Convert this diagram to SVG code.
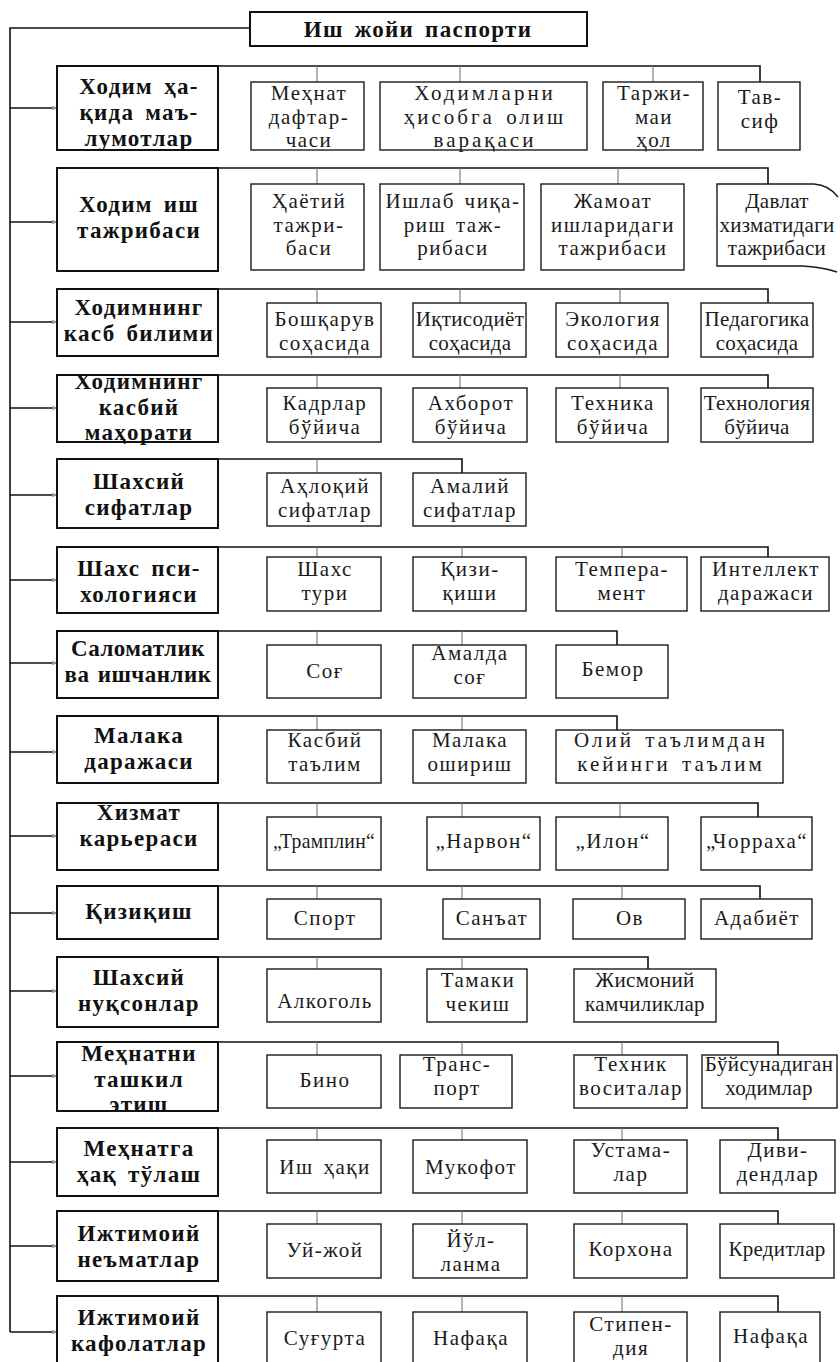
<svg xmlns="http://www.w3.org/2000/svg" width="840" height="1362" viewBox="0 0 840 1362">
  <defs>
    <marker id="tip" viewBox="0 0 8 8" refX="7" refY="4" markerWidth="6" markerHeight="6" orient="auto" markerUnits="userSpaceOnUse">
      <path d="M0,1 L8,4 L0,7 Z" fill="#999"/>
    </marker>
    <style>
      .bg { fill: #ffffff; }
      .title rect, .cat rect { fill: none; stroke: #111; stroke-width: 2; }
      .leaf rect, .leaf path { fill: none; stroke: #1a1a1a; stroke-width: 1.4; }
      text { font-family: "Liberation Serif", "DejaVu Serif", serif; fill: #111; text-anchor: middle; }
      .title text, .cat text { font-size: 23px; font-weight: bold; letter-spacing: 1.3px; word-spacing: 4px; }
      .cat.narrow text { letter-spacing: 0.5px; word-spacing: 2px; }
      .leaf text { font-size: 21px; letter-spacing: 1.5px; word-spacing: 3px; fill: #1a1a1a; }
      .wide text { letter-spacing: 3px; }
      .tight text { letter-spacing: 0.3px; }
      .trunk { fill: none; stroke: #111; stroke-width: 1.6; }
      .branch { fill: none; stroke: #111; stroke-width: 1.6; marker-end: url(#tip); }
      .bus { fill: none; stroke: #111; stroke-width: 1.6; }
      .tick { fill: none; stroke: #777; stroke-width: 1.1; }
    </style>
  </defs>
  <rect class="bg" x="0" y="0" width="840" height="1362"/>

  <!-- connectors: trunk, branches to the headings, and row buses with drops -->
  <g id="connectors">
    <path class="trunk" d="M250,28 H10 V1332"/>
    <path class="branch" d="M10,108 H57"/>
    <path class="branch" d="M10,222 H57"/>
    <path class="branch" d="M10,322 H57"/>
    <path class="branch" d="M10,408 H57"/>
    <path class="branch" d="M10,495 H57"/>
    <path class="branch" d="M10,580 H57"/>
    <path class="branch" d="M10,663 H57"/>
    <path class="branch" d="M10,752 H57"/>
    <path class="branch" d="M10,836 H57"/>
    <path class="branch" d="M10,913 H57"/>
    <path class="branch" d="M10,991 H57"/>
    <path class="branch" d="M10,1076 H57"/>
    <path class="branch" d="M10,1162 H57"/>
    <path class="branch" d="M10,1246 H57"/>
    <path class="branch" d="M10,1332 H57"/>

    <path class="bus" d="M218,66 H760 V82"/>
    <path class="tick" d="M317,66 V82 M460,66 V82 M653,66 V82"/>
    <path class="bus" d="M218,168 H768 V184"/>
    <path class="tick" d="M317,168 V184 M460,168 V184 M618,168 V184"/>
    <path class="bus" d="M218,289 H768 V303"/>
    <path class="tick" d="M317,289 V303 M460,289 V303 M620,289 V303"/>
    <path class="bus" d="M218,375 H768 V388"/>
    <path class="tick" d="M317,375 V388 M460,375 V388 M620,375 V388"/>
    <path class="bus" d="M218,459 H462 V473"/>
    <path class="tick" d="M317,459 V473"/>
    <path class="bus" d="M218,547 H768 V557"/>
    <path class="tick" d="M317,547 V557 M462,547 V557 M622,547 V557"/>
    <path class="bus" d="M218,631 H617 V645"/>
    <path class="tick" d="M317,631 V645 M462,631 V645"/>
    <path class="bus" d="M218,716 H617 V730"/>
    <path class="tick" d="M317,716 V730 M462,716 V730"/>
    <path class="bus" d="M218,803 H758 V817"/>
    <path class="tick" d="M317,803 V817 M462,803 V817 M620,803 V817"/>
    <path class="bus" d="M218,886 H760 V899"/>
    <path class="tick" d="M317,886 V899 M462,886 V899 M622,886 V899"/>
    <path class="bus" d="M218,957 H648 V969"/>
    <path class="tick" d="M317,957 V969 M462,957 V969"/>
    <path class="bus" d="M218,1042 H778 V1055"/>
    <path class="tick" d="M317,1042 V1055 M462,1042 V1055 M622,1042 V1055"/>
    <path class="bus" d="M218,1128 H778 V1140"/>
    <path class="tick" d="M317,1128 V1140 M462,1128 V1140 M622,1128 V1140"/>
    <path class="bus" d="M218,1211 H778 V1224"/>
    <path class="tick" d="M317,1211 V1224 M462,1211 V1224 M622,1211 V1224"/>
    <path class="bus" d="M218,1296 H778 V1312"/>
    <path class="tick" d="M317,1296 V1312 M462,1296 V1312 M622,1296 V1312"/>
  </g>

  <!-- root -->
  <g id="root" class="title">
    <rect x="250" y="12" width="337" height="34"/>
    <text x="418" y="37">Иш жойи паспорти</text>
  </g>

  <!-- row 1 -->
  <g id="c01" class="cat">
    <rect x="57" y="66" width="161" height="84"/>
    <text x="139" y="94">Ходим ҳа-</text>
    <text x="139" y="120">қида маъ-</text>
    <text x="139" y="146">лумотлар</text>
  </g>
  <g id="c01a" class="leaf">
    <rect x="251" y="82" width="113" height="68"/>
    <text x="309" y="100">Меҳнат</text>
    <text x="309" y="123.5">дафтар-</text>
    <text x="309" y="147">часи</text>
  </g>
  <g id="c01b" class="leaf wide">
    <rect x="380" y="82" width="207" height="68"/>
    <text x="485" y="100">Ходимларни</text>
    <text x="485" y="123.5">ҳисобга олиш</text>
    <text x="485" y="147">варақаси</text>
  </g>
  <g id="c01c" class="leaf">
    <rect x="603" y="82" width="100" height="68"/>
    <text x="654" y="100">Таржи-</text>
    <text x="654" y="123.5">маи</text>
    <text x="654" y="147">ҳол</text>
  </g>
  <g id="c01d" class="leaf">
    <rect x="718" y="82" width="82" height="68"/>
    <text x="760" y="104">Тав-</text>
    <text x="760" y="128">сиф</text>
  </g>

  <!-- row 2 -->
  <g id="c02" class="cat">
    <rect x="57" y="168" width="161" height="103"/>
    <text x="139" y="212">Ходим иш</text>
    <text x="139" y="238">тажрибаси</text>
  </g>
  <g id="c02a" class="leaf">
    <rect x="251" y="184" width="113" height="86"/>
    <text x="309" y="208">Ҳаётий</text>
    <text x="309" y="231.5">тажри-</text>
    <text x="309" y="255">баси</text>
  </g>
  <g id="c02b" class="leaf">
    <rect x="380" y="184" width="144" height="86"/>
    <text x="453" y="208">Ишлаб чиқа-</text>
    <text x="453" y="231.5">риш таж-</text>
    <text x="453" y="255">рибаси</text>
  </g>
  <g id="c02c" class="leaf">
    <rect x="541" y="184" width="143" height="86"/>
    <text x="613" y="208">Жамоат</text>
    <text x="613" y="231.5">ишларидаги</text>
    <text x="613" y="255">тажрибаси</text>
  </g>
  <g id="c02d" class="leaf tight">
    <path d="M814,184 H717 V266 H802 Q822,267 837,272 M814,184 Q829,185 838,197"/>
    <text x="777" y="208">Давлат</text>
    <text x="777" y="231.5">хизматидаги</text>
    <text x="777" y="255">тажрибаси</text>
  </g>

  <!-- row 3 -->
  <g id="c03" class="cat">
    <rect x="57" y="289" width="161" height="67"/>
    <text x="139" y="315">Ходимнинг</text>
    <text x="139" y="341">касб билими</text>
  </g>
  <g id="c03a" class="leaf">
    <rect x="267" y="303" width="114" height="54"/>
    <text x="325" y="326">Бошқарув</text>
    <text x="325" y="349.5">соҳасида</text>
  </g>
  <g id="c03b" class="leaf tight">
    <rect x="413" y="303" width="113" height="54"/>
    <text x="470" y="326">Иқтисодиёт</text>
    <text x="470" y="349.5">соҳасида</text>
  </g>
  <g id="c03c" class="leaf">
    <rect x="556" y="303" width="112" height="54"/>
    <text x="613" y="326">Экология</text>
    <text x="613" y="349.5">соҳасида</text>
  </g>
  <g id="c03d" class="leaf tight">
    <rect x="701" y="303" width="112" height="54"/>
    <text x="757" y="326">Педагогика</text>
    <text x="757" y="349.5">соҳасида</text>
  </g>

  <!-- row 4 -->
  <g id="c04" class="cat">
    <rect x="57" y="375" width="161" height="67"/>
    <text x="139" y="389">Ходимнинг</text>
    <text x="139" y="414.5">касбий</text>
    <text x="139" y="440">маҳорати</text>
  </g>
  <g id="c04a" class="leaf">
    <rect x="267" y="388" width="114" height="54"/>
    <text x="325" y="410">Кадрлар</text>
    <text x="325" y="433.5">бўйича</text>
  </g>
  <g id="c04b" class="leaf">
    <rect x="413" y="388" width="114" height="54"/>
    <text x="471" y="410">Ахборот</text>
    <text x="471" y="433.5">бўйича</text>
  </g>
  <g id="c04c" class="leaf">
    <rect x="556" y="388" width="112" height="54"/>
    <text x="613" y="410">Техника</text>
    <text x="613" y="433.5">бўйича</text>
  </g>
  <g id="c04d" class="leaf tight">
    <rect x="701" y="388" width="112" height="54"/>
    <text x="757" y="410">Технология</text>
    <text x="757" y="433.5">бўйича</text>
  </g>

  <!-- row 5 -->
  <g id="c05" class="cat">
    <rect x="57" y="459" width="161" height="69"/>
    <text x="139" y="489">Шахсий</text>
    <text x="139" y="515">сифатлар</text>
  </g>
  <g id="c05a" class="leaf">
    <rect x="267" y="473" width="114" height="53"/>
    <text x="325" y="493">Аҳлоқий</text>
    <text x="325" y="516.5">сифатлар</text>
  </g>
  <g id="c05b" class="leaf">
    <rect x="413" y="473" width="113" height="53"/>
    <text x="470" y="493">Амалий</text>
    <text x="470" y="516.5">сифатлар</text>
  </g>

  <!-- row 6 -->
  <g id="c06" class="cat">
    <rect x="57" y="547" width="161" height="66"/>
    <text x="139" y="576">Шахс пси-</text>
    <text x="139" y="602">хологияси</text>
  </g>
  <g id="c06a" class="leaf">
    <rect x="267" y="557" width="114" height="54"/>
    <text x="325" y="576">Шахс</text>
    <text x="325" y="599.5">тури</text>
  </g>
  <g id="c06b" class="leaf">
    <rect x="413" y="557" width="113" height="54"/>
    <text x="470" y="576">Қизи-</text>
    <text x="470" y="599.5">қиши</text>
  </g>
  <g id="c06c" class="leaf">
    <rect x="556" y="557" width="131" height="54"/>
    <text x="622" y="576">Темпера-</text>
    <text x="622" y="599.5">мент</text>
  </g>
  <g id="c06d" class="leaf">
    <rect x="701" y="557" width="128" height="54"/>
    <text x="766" y="576">Интеллект</text>
    <text x="766" y="599.5">даражаси</text>
  </g>

  <!-- row 7 -->
  <g id="c07" class="cat narrow">
    <rect x="57" y="631" width="161" height="67"/>
    <text x="138" y="656">Саломатлик</text>
    <text x="138" y="682">ва ишчанлик</text>
  </g>
  <g id="c07a" class="leaf">
    <rect x="267" y="645" width="114" height="53"/>
    <text x="325" y="678">Соғ</text>
  </g>
  <g id="c07b" class="leaf">
    <rect x="413" y="645" width="113" height="53"/>
    <text x="470" y="660">Амалда</text>
    <text x="470" y="683.5">соғ</text>
  </g>
  <g id="c07c" class="leaf">
    <rect x="556" y="645" width="112" height="53"/>
    <text x="613" y="676">Бемор</text>
  </g>

  <!-- row 8 -->
  <g id="c08" class="cat">
    <rect x="57" y="716" width="161" height="67"/>
    <text x="139" y="743">Малака</text>
    <text x="139" y="769">даражаси</text>
  </g>
  <g id="c08a" class="leaf">
    <rect x="267" y="730" width="114" height="53"/>
    <text x="325" y="747">Касбий</text>
    <text x="325" y="770.5">таълим</text>
  </g>
  <g id="c08b" class="leaf">
    <rect x="413" y="730" width="113" height="53"/>
    <text x="470" y="747">Малака</text>
    <text x="470" y="770.5">ошириш</text>
  </g>
  <g id="c08c" class="leaf wide">
    <rect x="556" y="730" width="227" height="53"/>
    <text x="671" y="747">Олий таълимдан</text>
    <text x="671" y="770.5">кейинги таълим</text>
  </g>

  <!-- row 9 -->
  <g id="c09" class="cat">
    <rect x="57" y="803" width="161" height="67"/>
    <text x="139" y="820">Хизмат</text>
    <text x="139" y="846">карьераси</text>
  </g>
  <g id="c09a" class="leaf tight">
    <rect x="267" y="817" width="114" height="53"/>
    <text x="324" y="848" textLength="102" lengthAdjust="spacingAndGlyphs">„Трамплин“</text>
  </g>
  <g id="c09b" class="leaf">
    <rect x="427" y="817" width="113" height="53"/>
    <text x="484" y="848">„Нарвон“</text>
  </g>
  <g id="c09c" class="leaf">
    <rect x="556" y="817" width="112" height="53"/>
    <text x="613" y="848">„Илон“</text>
  </g>
  <g id="c09d" class="leaf">
    <rect x="701" y="817" width="111" height="53"/>
    <text x="757" y="848">„Чорраха“</text>
  </g>

  <!-- row 10 -->
  <g id="c10" class="cat">
    <rect x="57" y="886" width="161" height="53"/>
    <text x="139" y="919">Қизиқиш</text>
  </g>
  <g id="c10a" class="leaf">
    <rect x="267" y="899" width="114" height="40"/>
    <text x="325" y="925">Спорт</text>
  </g>
  <g id="c10b" class="leaf">
    <rect x="443" y="899" width="97" height="40"/>
    <text x="492" y="925">Санъат</text>
  </g>
  <g id="c10c" class="leaf">
    <rect x="573" y="899" width="112" height="40"/>
    <text x="630" y="925">Ов</text>
  </g>
  <g id="c10d" class="leaf">
    <rect x="701" y="899" width="111" height="40"/>
    <text x="757" y="925">Адабиёт</text>
  </g>

  <!-- row 11 -->
  <g id="c11" class="cat">
    <rect x="57" y="957" width="161" height="70"/>
    <text x="139" y="985">Шахсий</text>
    <text x="139" y="1011">нуқсонлар</text>
  </g>
  <g id="c11a" class="leaf">
    <rect x="267" y="969" width="114" height="53"/>
    <text x="325" y="1008">Алкоголь</text>
  </g>
  <g id="c11b" class="leaf">
    <rect x="427" y="969" width="100" height="53"/>
    <text x="478" y="987">Тамаки</text>
    <text x="478" y="1010.5">чекиш</text>
  </g>
  <g id="c11c" class="leaf tight">
    <rect x="574" y="969" width="142" height="53"/>
    <text x="645" y="987">Жисмоний</text>
    <text x="645" y="1010.5">камчиликлар</text>
  </g>

  <!-- row 12 -->
  <g id="c12" class="cat">
    <rect x="57" y="1042" width="161" height="69"/>
    <text x="139" y="1061">Меҳнатни</text>
    <text x="139" y="1086.5">ташкил</text>
    <text x="139" y="1112">этиш</text>
  </g>
  <g id="c12a" class="leaf">
    <rect x="267" y="1055" width="114" height="53"/>
    <text x="325" y="1087">Бино</text>
  </g>
  <g id="c12b" class="leaf">
    <rect x="400" y="1055" width="112" height="53"/>
    <text x="457" y="1071">Транс-</text>
    <text x="457" y="1094.5">порт</text>
  </g>
  <g id="c12c" class="leaf">
    <rect x="574" y="1055" width="113" height="53"/>
    <text x="631" y="1071">Техник</text>
    <text x="631" y="1094.5">воситалар</text>
  </g>
  <g id="c12d" class="leaf tight">
    <rect x="702" y="1055" width="135" height="53"/>
    <text x="769" y="1071">Бўйсунадиган</text>
    <text x="769" y="1094.5">ходимлар</text>
  </g>

  <!-- row 13 -->
  <g id="c13" class="cat">
    <rect x="57" y="1128" width="161" height="68"/>
    <text x="139" y="1156">Меҳнатга</text>
    <text x="139" y="1182">ҳақ тўлаш</text>
  </g>
  <g id="c13a" class="leaf">
    <rect x="267" y="1140" width="114" height="53"/>
    <text x="325" y="1174">Иш ҳақи</text>
  </g>
  <g id="c13b" class="leaf">
    <rect x="413" y="1140" width="114" height="53"/>
    <text x="471" y="1174">Мукофот</text>
  </g>
  <g id="c13c" class="leaf">
    <rect x="574" y="1140" width="113" height="53"/>
    <text x="631" y="1157">Устама-</text>
    <text x="631" y="1181">лар</text>
  </g>
  <g id="c13d" class="leaf">
    <rect x="720" y="1140" width="115" height="53"/>
    <text x="778" y="1157">Диви-</text>
    <text x="778" y="1181">дендлар</text>
  </g>

  <!-- row 14 -->
  <g id="c14" class="cat">
    <rect x="57" y="1211" width="161" height="70"/>
    <text x="139" y="1241">Ижтимоий</text>
    <text x="139" y="1267">неъматлар</text>
  </g>
  <g id="c14a" class="leaf">
    <rect x="267" y="1224" width="114" height="54"/>
    <text x="325" y="1257">Уй-жой</text>
  </g>
  <g id="c14b" class="leaf">
    <rect x="413" y="1224" width="114" height="54"/>
    <text x="471" y="1247">Йўл-</text>
    <text x="471" y="1270.5">ланма</text>
  </g>
  <g id="c14c" class="leaf">
    <rect x="574" y="1224" width="113" height="54"/>
    <text x="631" y="1256">Корхона</text>
  </g>
  <g id="c14d" class="leaf tight">
    <rect x="720" y="1224" width="114" height="54"/>
    <text x="777" y="1256">Кредитлар</text>
  </g>

  <!-- row 15 -->
  <g id="c15" class="cat">
    <rect x="57" y="1296" width="161" height="70"/>
    <text x="139" y="1325">Ижтимоий</text>
    <text x="139" y="1351">кафолатлар</text>
  </g>
  <g id="c15a" class="leaf">
    <rect x="267" y="1312" width="114" height="54"/>
    <text x="325" y="1345">Суғурта</text>
  </g>
  <g id="c15b" class="leaf">
    <rect x="413" y="1312" width="114" height="54"/>
    <text x="471" y="1345">Нафақа</text>
  </g>
  <g id="c15c" class="leaf">
    <rect x="574" y="1312" width="113" height="54"/>
    <text x="631" y="1331">Стипен-</text>
    <text x="631" y="1355">дия</text>
  </g>
  <g id="c15d" class="leaf">
    <rect x="720" y="1312" width="100" height="54"/>
    <text x="771" y="1343">Нафақа</text>
  </g>
</svg>
